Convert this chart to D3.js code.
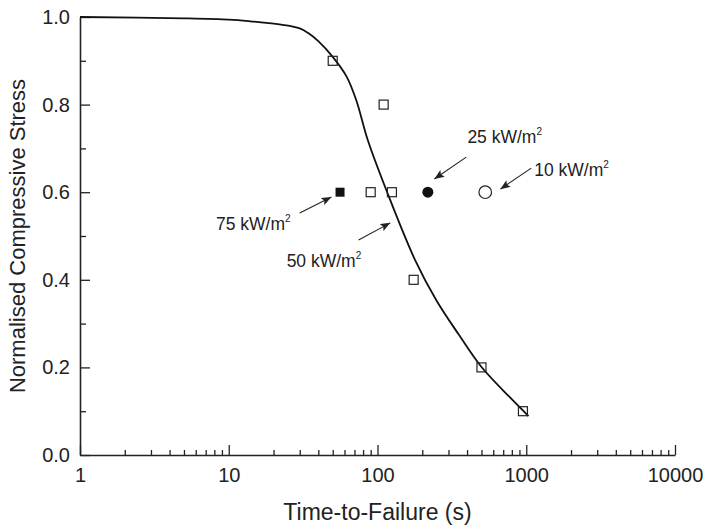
<!DOCTYPE html>
<html>
<head>
<meta charset="utf-8">
<script src="https://cdn.jsdelivr.net/npm/d3@7"></script>
<style>
  body { margin: 0; background: #fff; }
  text { font-family: "Liberation Sans", Arial, sans-serif; fill: #222; }
</style>
</head>
<body>
<div id="chart"></div>
<script>
// fitted curve
const curveTime   = [1, 5, 10, 14, 23, 30, 34, 40, 50, 62, 72, 86, 117, 179, 248, 350, 497, 769, 1035];
const curveStress = [1.0, 0.997, 0.994, 0.99, 0.982, 0.974, 0.964, 0.945, 0.909, 0.864, 0.81, 0.719, 0.597, 0.445, 0.354, 0.276, 0.202, 0.133, 0.089];

// test points (open squares)
const testTime   = [50, 110, 90, 125, 175, 500, 950];
const testStress = [0.9, 0.8, 0.6, 0.6, 0.4, 0.2, 0.1];

// fire exposure points: 75, 25, 10 kW/m2
const fireTime   = [56, 218, 530];
const fireStress = [0.6, 0.6, 0.6];

// annotations: label anchor and arrow (data coordinates)
const noteText   = ["75 kW/m", "50 kW/m", "25 kW/m", "10 kW/m"];
const noteX      = [8.2, 24.5, 402, 1132];
const noteY      = [0.514, 0.429, 0.712, 0.637];
const arrowFromX = [30, 74.6, 395, 1081];
const arrowFromY = [0.5525, 0.491, 0.68, 0.655];
const arrowToX   = [49, 122, 241, 669];
const arrowToY   = [0.589, 0.53, 0.63, 0.607];

const xMajor = [1, 10, 100, 1000, 10000];
const yMajor = [0, 0.2, 0.4, 0.6, 0.8, 1.0];
const yMinor = [0.1, 0.3, 0.5, 0.7, 0.9];

const W = 707, H = 531;
const margin = { top: 17, right: 32, bottom: 76, left: 80 };

const svg = d3.select("#chart").append("svg")
    .attr("width", W)
    .attr("height", H);

const x = d3.scaleLog()
    .domain([1, 10000])
    .range([margin.left, W - margin.right]);

const y = d3.scaleLinear()
    .domain([0, 1])
    .range([H - margin.bottom, margin.top]);

const xMinor = [];
for (let d = 1; d < 10000; d *= 10) {
    for (let k = 2; k <= 9; k++) xMinor.push(d * k);
}

const axisColor = "#222";

// minor ticks first
svg.append("g")
    .attr("transform", `translate(0, ${y(0)})`)
    .call(d3.axisBottom(x).tickValues(xMinor).tickSize(-5).tickFormat(""))
    .call(g => g.select(".domain").remove())
    .call(g => g.selectAll("line").attr("stroke", axisColor).attr("stroke-width", 1.3));

svg.append("g")
    .attr("transform", `translate(${x(1)}, 0)`)
    .call(d3.axisLeft(y).tickValues(yMinor).tickSize(-6).tickFormat(""))
    .call(g => g.select(".domain").remove())
    .call(g => g.selectAll("line").attr("stroke", axisColor).attr("stroke-width", 1.3));

// major axes
const xAxis = svg.append("g")
    .attr("transform", `translate(0, ${y(0)})`)
    .call(d3.axisBottom(x).tickValues(xMajor).tickSize(-10).tickSizeOuter(0).tickPadding(13).tickFormat(d3.format("d")));
xAxis.selectAll("text").style("font-size", "20px").attr("fill", axisColor);

const yAxis = svg.append("g")
    .attr("transform", `translate(${x(1)}, 0)`)
    .call(d3.axisLeft(y).tickValues(yMajor).tickSize(-10).tickSizeOuter(0).tickPadding(10).tickFormat(d3.format(".1f")));
yAxis.selectAll("text").style("font-size", "20px").attr("fill", axisColor);

[xAxis, yAxis].forEach(g => {
    g.select(".domain").attr("stroke", axisColor).attr("stroke-width", 1.6);
    g.selectAll(".tick line").attr("stroke", axisColor).attr("stroke-width", 1.3);
});

// axis titles
svg.append("text")
    .attr("x", (x(1) + x(10000)) / 2)
    .attr("y", 520)
    .attr("text-anchor", "middle")
    .style("font-size", "23px")
    .text("Time-to-Failure (s)");

svg.append("text")
    .attr("transform", `translate(25, ${(y(0) + y(1)) / 2}) rotate(-90)`)
    .attr("text-anchor", "middle")
    .style("font-size", "22px")
    .text("Normalised Compressive Stress");

// curve
const curveData = curveTime.map((t, i) => ({ t: t, s: curveStress[i] }));
const line = d3.line()
    .x(d => x(d.t))
    .y(d => y(d.s))
    .curve(d3.curveCatmullRom.alpha(0.5));

svg.append("path")
    .datum(curveData)
    .attr("d", line)
    .attr("fill", "none")
    .attr("stroke", "#111")
    .attr("stroke-width", 1.8);

// open squares
const sq = 9;
svg.selectAll(".test")
    .data(testTime.map((t, i) => ({ t: t, s: testStress[i] })))
    .join("rect")
    .attr("class", "test")
    .attr("x", d => x(d.t) - sq / 2)
    .attr("y", d => y(d.s) - sq / 2)
    .attr("width", sq)
    .attr("height", sq)
    .attr("fill", "none")
    .attr("stroke", "#222")
    .attr("stroke-width", 1.2);

// fire points: filled square, filled circle, open circle
svg.append("rect")
    .attr("x", x(fireTime[0]) - sq / 2)
    .attr("y", y(fireStress[0]) - sq / 2)
    .attr("width", sq)
    .attr("height", sq)
    .attr("fill", "#111");

svg.append("circle")
    .attr("cx", x(fireTime[1]))
    .attr("cy", y(fireStress[1]))
    .attr("r", 5.5)
    .attr("fill", "#111");

svg.append("circle")
    .attr("cx", x(fireTime[2]))
    .attr("cy", y(fireStress[2]))
    .attr("r", 6.3)
    .attr("fill", "white")
    .attr("stroke", "#222")
    .attr("stroke-width", 1.2);

// arrows
svg.append("defs").append("marker")
    .attr("id", "head")
    .attr("viewBox", "0 0 10 8")
    .attr("refX", 10)
    .attr("refY", 4)
    .attr("markerWidth", 10)
    .attr("markerHeight", 8)
    .attr("markerUnits", "userSpaceOnUse")
    .attr("orient", "auto")
    .append("path")
    .attr("d", "M0,0 L10,4 L0,8 L2,4 z")
    .attr("fill", "#222");

svg.selectAll(".arrow")
    .data(noteText.map((t, i) => i))
    .join("line")
    .attr("class", "arrow")
    .attr("x1", i => x(arrowFromX[i]))
    .attr("y1", i => y(arrowFromY[i]))
    .attr("x2", i => x(arrowToX[i]))
    .attr("y2", i => y(arrowToY[i]))
    .attr("stroke", "#222")
    .attr("stroke-width", 1.1)
    .attr("marker-end", "url(#head)");

// labels with superscript
const notes = svg.selectAll(".note")
    .data(noteText.map((t, i) => ({ t: t, i: i })))
    .join("text")
    .attr("class", "note")
    .attr("x", d => x(noteX[d.i]))
    .attr("y", d => y(noteY[d.i]))
    .style("font-size", "17.5px");
notes.append("tspan").text(d => d.t);
notes.append("tspan")
    .attr("dy", -8)
    .style("font-size", "10px")
    .text("2");
</script>
</body>
</html>
